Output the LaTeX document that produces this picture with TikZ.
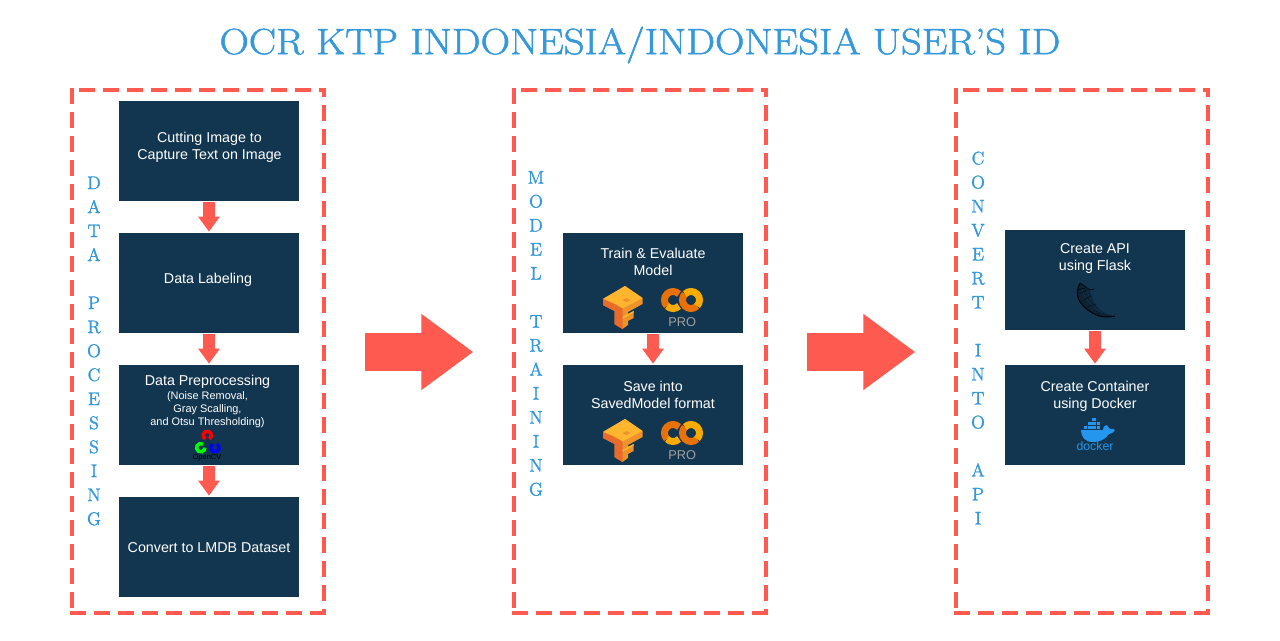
\documentclass[tikz,border=0pt]{standalone}
\usepackage{fontspec}
\usetikzlibrary{arrows.meta,calc}
\setsansfont{Liberation Sans}
\newfontfamily\engr{Latin Modern Roman}[FakeBold=1.3]
\definecolor{boxblue}{HTML}{123650}
\definecolor{coral}{HTML}{FF5A4F}
\definecolor{skyblue}{HTML}{3498DB}
\definecolor{dockblue}{HTML}{2496ED}
\definecolor{tfa}{HTML}{FFB52E}
\definecolor{tfb}{HTML}{F0922B}
\definecolor{tfc}{HTML}{E96B2C}
\definecolor{cola}{HTML}{F9AB00}
\definecolor{colb}{HTML}{E8710A}
\tikzset{
  px/.style={x=0.75pt,y=-0.75pt},
  panel/.style={minimum width=189pt,minimum height=392.25pt,inner sep=0pt,outer sep=0pt},
  panelline/.style={draw=coral,line width=3pt,dash pattern=on 12pt off 6pt,line cap=butt},
  stepbox/.style={fill=boxblue,minimum width=135pt,minimum height=75pt,inner sep=0pt,outer sep=0pt},
  boxtext/.style={text=white,align=center,inner sep=0pt,font=\sffamily\fontsize{10.7}{12.75}\selectfont},
  subtext/.style={text=white,align=center,inner sep=0pt,font=\sffamily\fontsize{8.2}{9.75}\selectfont},
  smallarrow/.style={draw=coral,line width=8.6pt,-{Triangle[length=11.25pt,width=15.5pt]},shorten <=1pt,shorten >=1pt},
  bigarrow/.style={draw=coral,line width=28.5pt,-{Triangle[length=39pt,width=54.5pt]}},
  vlabel/.style={text=skyblue,align=center,inner sep=0pt,font=\engr\fontsize{13.7}{18}\selectfont},
  title/.style={text=skyblue,inner sep=0pt,xscale=1.11,font=\engr\fontsize{27.5}{30}\selectfont},
}
% colour, centre x, centre y, radius (pt), from, to, line width (pt)
\newcommand{\ringarc}[7]{\draw[#1,line width=#7pt,line cap=butt] (#2,#3) ++(#5:#4pt) arc (#5:#6:#4pt);}
\newcommand{\tfcolab}[2]{%
  \begin{scope}[shift={(#1,#2)}]
    \fill[tfb] (-21.5,-9) -- (0.5,-22) -- (18,-10) -- (18,-4) -- (3.5,4) -- (3.5,6) -- (9,3) -- (9,10) -- (3.5,13) -- (3.5,17) -- (-2,21) -- (-10,16) -- (-10,3) -- (-21.5,-3) -- cycle;
    \fill[tfa] (-21.5,-9) -- (0.5,-22) -- (18,-10) -- (-2,0.5) -- (-10,-4) -- cycle;
    \fill[tfc] (-21.5,-9) -- (-10,-4) -- (-10,3) -- (-21.5,-3) -- cycle;
    \fill[tfc] (-10,-4) -- (-2,0.5) -- (-2,21) -- (-10,16) -- cycle;
    \fill[tfb] (-2,-8) -- (2,-10) -- (6,-8) -- (2,-6) -- cycle;
    \fill[tfa] (-2,9) -- (3.5,6) -- (9,3) -- (9,4.5) -- (-2,11) -- cycle;
    \ringarc{colb}{48.5}{-8}{6.4}{45}{225}{5.2}
    \ringarc{cola}{48.5}{-8}{6.4}{225}{315}{5.2}
    \ringarc{colb}{66.5}{-8}{6.4}{135}{315}{5.2}
    \ringarc{cola}{66.5}{-8}{6.4}{-45}{135}{5.2}
    \node[text=gray!75,inner sep=0pt,font=\sffamily\fontsize{9.6}{10}\selectfont] at (57.7,14) {PRO};
  \end{scope}}
\begin{document}
\begin{tikzpicture}[px]
\useasboundingbox (0,0) rectangle (1280,640);
\fill[white] (0,0) rectangle (1280,640);

\node[title] (ttl) at (640,45) {OCR KTP INDONESIA/INDONESIA USER’S ID};

\node[panel] (p1) at (198,351.5) {};
\node[panel] (p2) at (640,351.5) {};
\node[panel] (p3) at (1082,351.5) {};
\foreach \p in {p1,p2,p3}{
  \draw[panelline,dash phase=11.25pt,shorten <=-1.5pt,shorten >=-1.5pt] (\p.north west) -- (\p.north east);
  \draw[panelline,shorten <=-1.5pt] (\p.north west) -- (\p.south west);
  \draw[panelline,dash phase=5.25pt,shorten <=-1.5pt,shorten >=-1.5pt] (\p.north east) -- (\p.south east);
  \draw[panelline,shorten <=-1.5pt,shorten >=-1.5pt] (\p.south west) -- (\p.south east);
}

\node[stepbox] (a) at (209,151) {};
\node[stepbox] (b) at (209,283) {};
\node[stepbox] (c) at (209,415) {};
\node[stepbox] (d) at (209,547) {};
\node[boxtext] (a1) at (209.5,147.5) {Cutting Image to\\Capture Text on Image};
\node[boxtext] (b1) at (208,279.5) {Data Labeling};
\node[boxtext] (c1) at (207.5,382) {Data Preprocessing};
\node[subtext] (c2) at (207.5,409.8) {(Noise Removal,\\Gray Scalling,\\and Otsu Thresholding)};
\node[boxtext] (d1) at (209,548) {Convert to LMDB Dataset};

\node[stepbox] (e) at (653,283) {};
\node[boxtext] (e1) at (653,261.5) {Train \& Evaluate\\Model};
\node[stepbox] (f) at (653,415) {};
\node[boxtext] (f1) at (653,394.5) {Save into\\SavedModel format};
\tfcolab{624.5}{308}
\tfcolab{624.5}{441}

\node[stepbox] (g) at (1095,280) {};
\node[boxtext] (g1) at (1095,258.5) {Create API\\using Flask};
\node[stepbox] (h) at (1095,415) {};
\node[boxtext] (h1) at (1095,396.5) {Create Container\\using Docker};

% OpenCV logo
\ringarc{red}{207.3}{435.3}{3.1}{-60}{240}{2.6}
\ringarc{green}{200.7}{447.7}{3.1}{60}{360}{2.6}
\ringarc{blue}{215}{447.7}{3.1}{120}{420}{2.6}
\node[inner sep=0pt,text=black,font=\sffamily\fontsize{5.6}{6}\selectfont] (cv) at (207,457.5) {OpenCV};

% Flask horn
\begin{scope}[shift={(1065,280)}]
  \fill[black!35!boxblue] (15,3) .. controls (10,12) and (12,24) .. (26,32) .. controls (33,36) and (42,38) .. (50,36) .. controls (38,35) and (29,26) .. (25,12) .. controls (21,8) and (18,6) .. (15,3) -- cycle;
  \draw[black,line width=0.7pt] (15,3) .. controls (9,14) and (13,24) .. (26,32) .. controls (33,37) and (42,38) .. (50,36);
  \draw[black,line width=0.5pt] (15,3) -- (25,10) -- (29,9);
  \draw[black,line width=0.4pt] (12,10) -- (20,8);
  \draw[boxblue,line width=0.5pt] (17,9) .. controls (19,18) and (26,27) .. (38,33);
  \draw[boxblue,line width=0.5pt] (22,11) .. controls (24,18) and (30,26) .. (42,34);
  \draw[black!70!boxblue,line width=0.4pt] (14,14) -- (22,10) (17,21) -- (26,16) (22,27) -- (31,24);
\end{scope}

% Docker whale
\begin{scope}[shift={(1065,415)}]
  \fill[dockblue] (16,15) -- (38,15) .. controls (38,11) and (41,10) .. (42,10) .. controls (43,12) and (44,13) .. (45,14) .. controls (47,13.5) and (49,14) .. (50,15) .. controls (48,18) and (46,19) .. (44,19) .. controls (40,25) and (34,27) .. (28,27) .. controls (20,27) and (16,22) .. (16,15) -- cycle;
  \foreach \x/\y in {19/10.5,23.2/10.5,27.4/10.5,31.6/10.5,23.2/6.8,27.4/6.8,31.6/6.8,27.4/3}
    \fill[dockblue] (\x,\y) rectangle +(3.4,3);
  \node[inner sep=0pt,text=dockblue,font=\sffamily\fontsize{9.2}{10}\selectfont] (dk) at (30,31.5) {docker};
\end{scope}

\node[vlabel] (l1) at (94,351) {D\\A\\T\\A\\\mbox{}\\P\\R\\O\\C\\E\\S\\S\\I\\N\\G};
\node[vlabel] (l2) at (536,333.5) {M\\O\\D\\E\\L\\\mbox{}\\T\\R\\A\\I\\N\\I\\N\\G};
\node[vlabel] (l3) at (978,338) {C\\O\\N\\V\\E\\R\\T\\\mbox{}\\I\\N\\T\\O\\\mbox{}\\A\\P\\I};

\draw[smallarrow] (a) -- (b);
\draw[smallarrow] (b) -- (c);
\draw[smallarrow] (c) -- (d);
\draw[smallarrow] (e) -- (f);
\draw[smallarrow] (g) -- (h);
\draw[bigarrow,shorten <=31pt,shorten >=30.5pt] ($(p1.east)+(0,0.5)$) -- ($(p2.west)+(0,0.5)$);
\draw[bigarrow,shorten <=31pt,shorten >=30.5pt] ($(p2.east)+(0,0.5)$) -- ($(p3.west)+(0,0.5)$);
\end{tikzpicture}
\end{document}
